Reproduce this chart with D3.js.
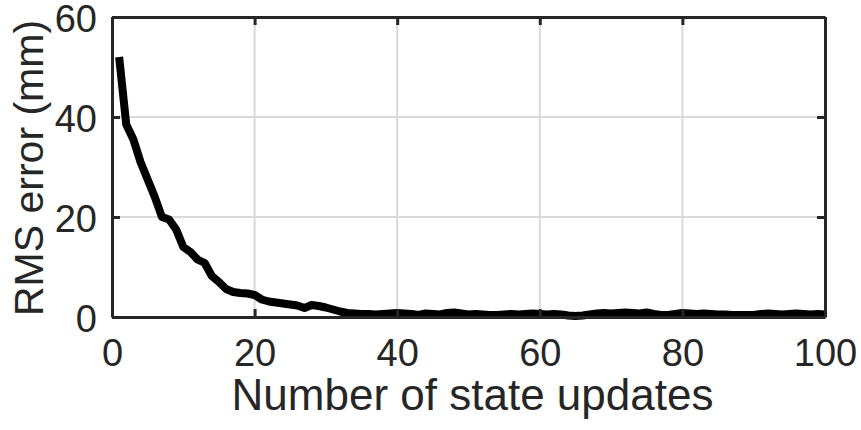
<!DOCTYPE html>
<html>
<head>
<meta charset="utf-8">
<script src="https://cdn.jsdelivr.net/npm/d3@7"></script>
<style>
  html, body { margin: 0; padding: 0; background: #fff; }
  svg { display: block; }
  text { font-family: "Liberation Sans", Arial, Helvetica, sans-serif; fill: #262626; }
</style>
</head>
<body>
<svg id="chart" width="861" height="430"></svg>
<script>
// ---- data ----
const updates = d3.range(1, 101);
const rmsError = [
  52, 38.5, 35.5, 31, 27.5, 24, 20, 19.5, 17.5, 14,
  13, 11.5, 10.8, 8.2, 7, 5.6, 5, 4.8, 4.7, 4.4,
  3.5, 3.1, 2.9, 2.7, 2.5, 2.3, 1.8, 2.4, 2.2, 1.9,
  1.5, 1.1, 0.8, 0.7, 0.6, 0.6, 0.5, 0.6, 0.7, 0.8,
  0.7, 0.6, 0.4, 0.7, 0.6, 0.5, 0.8, 0.9, 0.7, 0.5,
  0.6, 0.5, 0.4, 0.4, 0.5, 0.6, 0.5, 0.6, 0.7, 0.6,
  0.5, 0.6, 0.5, 0.3, 0.2, 0.3, 0.5, 0.7, 0.8, 0.7,
  0.8, 0.9, 0.8, 0.7, 0.9, 0.6, 0.4, 0.4, 0.6, 0.8,
  0.7, 0.6, 0.7, 0.6, 0.5, 0.5, 0.4, 0.4, 0.4, 0.4,
  0.6, 0.7, 0.6, 0.5, 0.6, 0.7, 0.6, 0.5, 0.6, 0.5
];
const xTicks = [0, 20, 40, 60, 80, 100];
const yTicks = [0, 20, 40, 60];
const xLabel = "Number of state updates";
const yLabel = "RMS error (mm)";

// ---- layout ----
const svg = d3.select("#chart");
const mLeft = 112, mRight = 825, mTop = 17, mBottom = 317;
const x = d3.scaleLinear().domain([0, 100]).range([mLeft, mRight]);
const y = d3.scaleLinear().domain([0, 60]).range([mBottom, mTop]);
const axisColor = "#262626";

// grid
const grid = svg.append("g");
grid.selectAll(".gx").data(xTicks).enter().append("line")
  .attr("x1", d => x(d)).attr("x2", d => x(d))
  .attr("y1", mTop).attr("y2", mBottom)
  .attr("stroke", "#d9d9d9").attr("stroke-width", 2);
grid.selectAll(".gy").data(yTicks).enter().append("line")
  .attr("x1", mLeft).attr("x2", mRight)
  .attr("y1", d => y(d)).attr("y2", d => y(d))
  .attr("stroke", "#d9d9d9").attr("stroke-width", 2);

// data line
const line = d3.line().x((d, i) => x(updates[i])).y(d => y(d));
svg.append("path")
  .datum(rmsError)
  .attr("d", line)
  .attr("fill", "none")
  .attr("stroke", "#000")
  .attr("stroke-width", 8)
  .attr("stroke-linejoin", "round")
  .attr("stroke-linecap", "butt");

// axes (ticks inside)
const xAxisB = svg.append("g").attr("transform", `translate(0,${mBottom})`)
  .call(d3.axisBottom(x).tickValues(xTicks).tickSizeInner(-8).tickSizeOuter(0).tickPadding(22));
const xAxisT = svg.append("g").attr("transform", `translate(0,${mTop})`)
  .call(d3.axisTop(x).tickValues(xTicks).tickSizeInner(-8).tickSizeOuter(0).tickFormat(""));
const yAxisL = svg.append("g").attr("transform", `translate(${mLeft},0)`)
  .call(d3.axisLeft(y).tickValues(yTicks).tickSizeInner(-8).tickSizeOuter(0).tickPadding(15));
const yAxisR = svg.append("g").attr("transform", `translate(${mRight},0)`)
  .call(d3.axisRight(y).tickValues(yTicks).tickSizeInner(-8).tickSizeOuter(0).tickFormat(""));

[xAxisB, xAxisT, yAxisL, yAxisR].forEach(g => {
  g.select(".domain").attr("stroke", axisColor).attr("stroke-width", 3);
  g.selectAll(".tick line").attr("stroke", axisColor).attr("stroke-width", 3);
  g.selectAll(".tick text").attr("font-size", 38).attr("fill", axisColor)
    .style("font-family", '"Liberation Sans", Arial, sans-serif');
});
yAxisL.selectAll(".tick text").attr("dy", "0.38em");

// axis labels
svg.append("text")
  .attr("x", (mLeft + mRight) / 2 + 4).attr("y", 410)
  .attr("text-anchor", "middle")
  .attr("font-size", 44)
  .text(xLabel);
svg.append("text")
  .attr("transform", `translate(43,${(mTop + mBottom) / 2 + 1}) rotate(-90)`)
  .attr("text-anchor", "middle")
  .attr("font-size", 41)
  .text(yLabel);
</script>
</body>
</html>
